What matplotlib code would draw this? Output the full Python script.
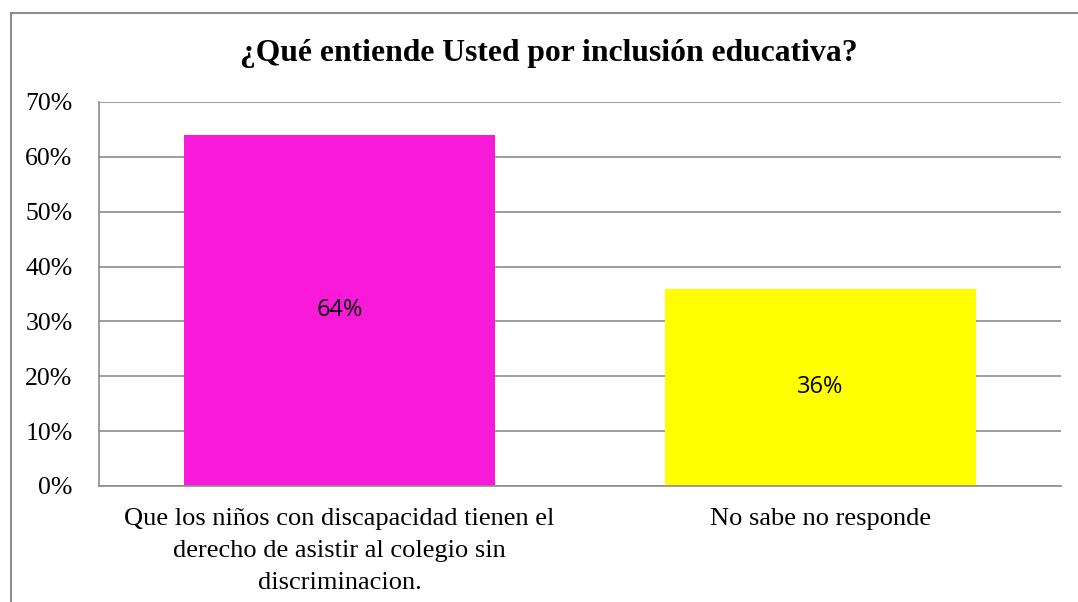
import matplotlib
matplotlib.use('Agg')
from matplotlib import pyplot as plt
from matplotlib.lines import Line2D

title = '¿Qué entiende Usted por inclusión educativa?'
categories = ['Que los niños con discapacidad tienen el\nderecho de asistir al colegio sin\ndiscriminacion.',
              'No sabe no responde']
values = [0.64, 0.36]
bar_labels = ['64%', '36%']
colors = ['#F819D9', '#FFFF00']
yticks = [0.0, 0.1, 0.2, 0.3, 0.4, 0.5, 0.6, 0.7]
ytick_labels = ['0%', '10%', '20%', '30%', '40%', '50%', '60%', '70%']

serif = ['Liberation Serif', 'DejaVu Serif']
W, H = 1078, 602

fig = plt.figure(figsize=(W / 100, H / 100), dpi=100)
ax = fig.add_axes([99 / W, 1 - 486 / H, (1061 - 99) / W, (486 - 102) / H])

x = range(len(categories))
bars = ax.bar(x, values, width=0.645, color=colors, zorder=2)
for b, lab in zip(bars, bar_labels):
    ax.text(b.get_x() + b.get_width() / 2, b.get_height() / 2, lab,
            ha='center', va='center', fontsize=17, family=['Open Sans', 'DejaVu Sans'], zorder=3)

ax.set_xlim(-0.5, 1.5)
ax.set_ylim(0, 0.7)
ax.set_yticks(yticks)
ax.set_yticklabels(ytick_labels, family=serif, fontsize=18.5)
ax.set_xticks(list(x))
ax.set_xticklabels(categories, family=serif, fontsize=19, linespacing=1.57, va='top')
ax.tick_params(axis='both', length=0)
ax.tick_params(axis='y', pad=19)
ax.tick_params(axis='x', pad=16)
ax.yaxis.grid(True, color='#8c8c8c', linewidth=1.2, zorder=0)
ax.set_axisbelow(True)
for s in ['top', 'right']:
    ax.spines[s].set_visible(False)
for s in ['left', 'bottom']:
    ax.spines[s].set_color('#8c8c8c')
    ax.spines[s].set_linewidth(1.2)

fig.text(549 / W, 1 - 54 / H, title, ha='center', va='center',
         fontsize=22.8, fontweight='bold', family=serif)

# outer chart border (runs off right and bottom edges)
fig.add_artist(Line2D([10.5 / W, 10.5 / W], [0, 1 - 12.5 / H], color='#8c8c8c', linewidth=1.5))
fig.add_artist(Line2D([10.5 / W, 1], [1 - 12.5 / H, 1 - 12.5 / H], color='#8c8c8c', linewidth=1.5))

fig.savefig('out.png', dpi=100)
